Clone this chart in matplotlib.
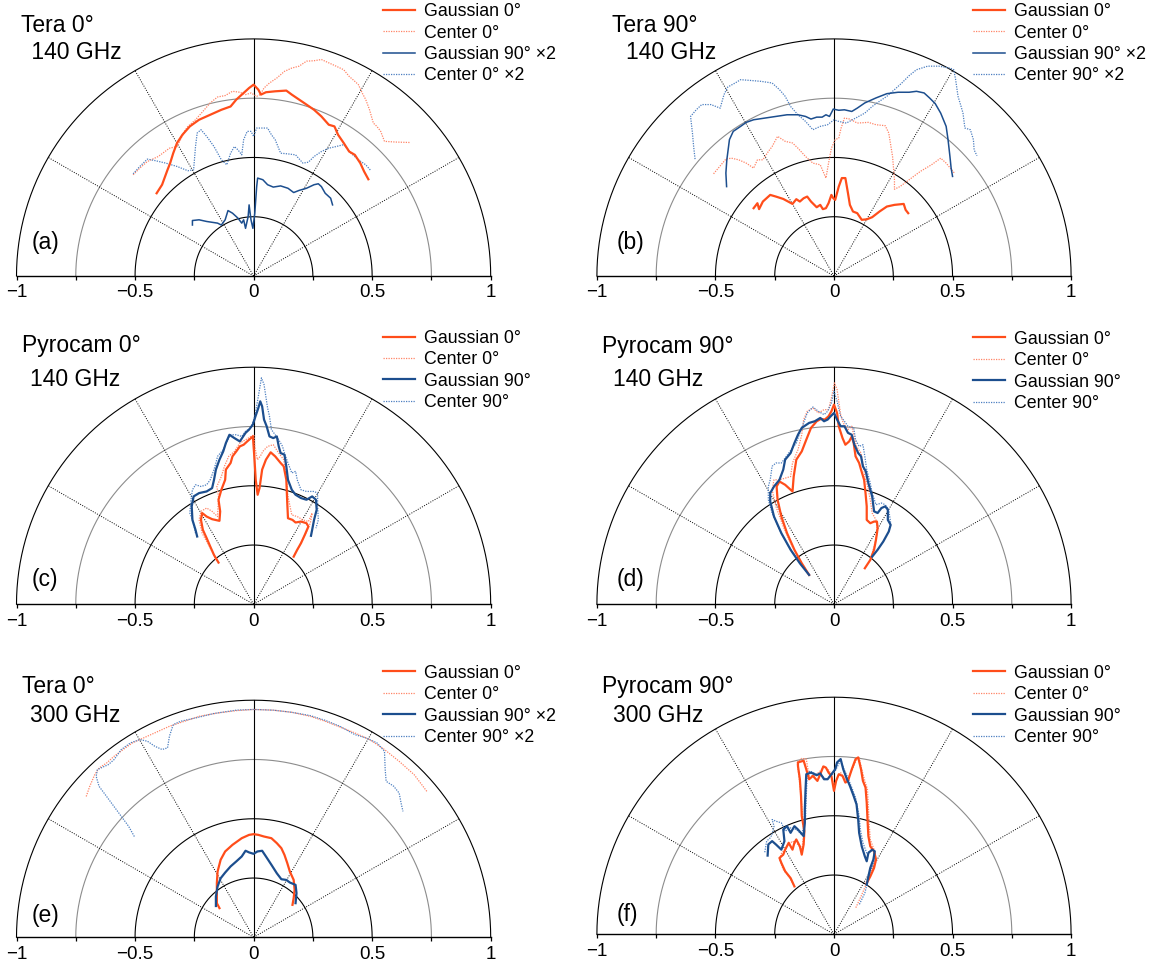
import numpy as np
import matplotlib
matplotlib.use('Agg')
import matplotlib.pyplot as plt

plt.rcParams['font.family'] = ['Liberation Sans', 'DejaVu Sans']

# ── colours ────────────────────────────────────────────────────────────
C_G0 = '#FF4D1A'    # Gaussian 0°
C_C0 = '#FF8466'    # Center 0°
C_G90 = '#1C4E8E'   # Gaussian 90°
C_C90 = '#4C7FC0'   # Center 90°

# ── data: horizontal / vertical projection of the polar patterns ──────
# (a) Tera 0°, 140 GHz
a_g0_x = [-0.409, -0.386, -0.363, -0.352, -0.339, -0.323, -0.300, -0.269, -0.230, -0.183, -0.136, -0.097,
          -0.073, -0.042, -0.019, 0.0, 0.020, 0.031, 0.052, 0.091, 0.138, 0.161, 0.192, 0.223, 0.255, 0.286,
          0.317, 0.341, 0.356, 0.380, 0.403, 0.427, 0.450, 0.466, 0.484]
a_g0_y = [0.349, 0.385, 0.448, 0.476, 0.518, 0.561, 0.596, 0.631, 0.659, 0.680, 0.701, 0.715,
          0.744, 0.772, 0.793, 0.807, 0.786, 0.765, 0.775, 0.779, 0.782, 0.765, 0.744, 0.723, 0.701, 0.673,
          0.638, 0.631, 0.596, 0.561, 0.525, 0.511, 0.476, 0.441, 0.408]
a_c0_x = [-0.508, -0.480, -0.448, -0.402, -0.355, -0.323, -0.308, -0.292, -0.277, -0.245, -0.214, -0.183,
          -0.152, -0.120, -0.089, -0.058, -0.034, -0.011, 0.013, 0.028, 0.044, 0.067, 0.098, 0.130, 0.161,
          0.192, 0.223, 0.255, 0.286, 0.317, 0.348, 0.380, 0.403, 0.427, 0.442, 0.458, 0.473, 0.489, 0.505,
          0.520, 0.536, 0.552, 0.598, 0.661]
a_c0_y = [0.427, 0.455, 0.483, 0.504, 0.539, 0.546, 0.575, 0.610, 0.631, 0.659, 0.694, 0.730,
          0.755, 0.761, 0.779, 0.775, 0.765, 0.772, 0.758, 0.765, 0.793, 0.814, 0.835, 0.863, 0.877,
          0.885, 0.906, 0.908, 0.913, 0.899, 0.885, 0.870, 0.842, 0.821, 0.807, 0.772, 0.744, 0.701, 0.645,
          0.631, 0.610, 0.568, 0.565, 0.563]
a_g90_x = [-0.258, -0.258, -0.230, -0.198, -0.152, -0.136, -0.120, -0.108, -0.089, -0.066, -0.050, -0.042,
           -0.034, -0.023, -0.019, -0.011, -0.003, 0.005, 0.013, 0.017, 0.039, 0.059, 0.083, 0.114, 0.145,
           0.169, 0.192, 0.223, 0.255, 0.273, 0.286, 0.302, 0.325, 0.333]
a_g90_y = [0.215, 0.234, 0.237, 0.230, 0.223, 0.215, 0.237, 0.276, 0.265, 0.244, 0.223, 0.237,
           0.201, 0.251, 0.300, 0.237, 0.201, 0.265, 0.377, 0.413, 0.406, 0.385, 0.375, 0.380, 0.370,
           0.352, 0.361, 0.370, 0.385, 0.389, 0.377, 0.349, 0.328, 0.300]
a_c90_x = [-0.508, -0.480, -0.448, -0.417, -0.370, -0.323, -0.277, -0.253, -0.245, -0.238, -0.222, -0.198,
           -0.167, -0.136, -0.113, -0.097, -0.081, -0.066, -0.050, -0.042, -0.027, -0.011, 0.0, 0.013, 0.036,
           0.059, 0.075, 0.091, 0.114, 0.145, 0.177, 0.208, 0.231, 0.255, 0.286, 0.317, 0.348, 0.380, 0.411,
           0.442, 0.473, 0.494]
a_c90_y = [0.431, 0.462, 0.493, 0.487, 0.476, 0.462, 0.444, 0.448, 0.546, 0.603, 0.617, 0.589,
           0.546, 0.490, 0.469, 0.518, 0.546, 0.532, 0.511, 0.575, 0.610, 0.610, 0.589, 0.624, 0.624,
           0.624, 0.596, 0.575, 0.518, 0.515, 0.511, 0.476, 0.480, 0.504, 0.525, 0.539, 0.546, 0.554, 0.518,
           0.490, 0.469, 0.445]

# (b) Tera 90°, 140 GHz
b_g0_x = [-0.339, -0.323, -0.316, -0.300, -0.269, -0.245, -0.214, -0.175, -0.159, -0.144, -0.128, -0.113,
          -0.097, -0.073, -0.058, -0.047, -0.034, -0.023, -0.011, -0.003, 0.005, 0.020, 0.033, 0.048, 0.059,
          0.067, 0.080, 0.098, 0.117, 0.138, 0.161, 0.192, 0.223, 0.255, 0.294, 0.302, 0.313]
b_g0_y = [0.286, 0.307, 0.282, 0.314, 0.342, 0.335, 0.325, 0.304, 0.324, 0.314, 0.328, 0.335,
          0.314, 0.290, 0.300, 0.282, 0.286, 0.307, 0.342, 0.328, 0.321, 0.377, 0.413, 0.413, 0.349,
          0.300, 0.272, 0.265, 0.237, 0.239, 0.248, 0.272, 0.293, 0.300, 0.304, 0.279, 0.265]
b_c0_x = [-0.508, -0.488, -0.456, -0.433, -0.402, -0.370, -0.339, -0.323, -0.300, -0.277, -0.261, -0.238,
          -0.206, -0.175, -0.152, -0.120, -0.089, -0.058, -0.034, -0.023, -0.011, 0.005, 0.020, 0.030, 0.044,
          0.067, 0.098, 0.145, 0.177, 0.216, 0.231, 0.247, 0.255, 0.255, 0.278, 0.317, 0.364, 0.411, 0.450,
          0.473, 0.508]
b_c0_y = [0.431, 0.455, 0.493, 0.497, 0.490, 0.476, 0.455, 0.490, 0.490, 0.525, 0.546, 0.589,
          0.568, 0.561, 0.539, 0.504, 0.476, 0.469, 0.413, 0.476, 0.539, 0.575, 0.582, 0.624, 0.666,
          0.662, 0.645, 0.648, 0.638, 0.634, 0.603, 0.504, 0.406, 0.366, 0.377, 0.406, 0.441, 0.469, 0.497,
          0.476, 0.434]
b_g90_x = [-0.453, -0.456, -0.452, -0.441, -0.425, -0.394, -0.370, -0.339, -0.292, -0.245, -0.198, -0.152,
           -0.120, -0.097, -0.073, -0.050, -0.034, -0.019, -0.003, 0.020, 0.044, 0.075, 0.098, 0.130, 0.177,
           0.223, 0.270, 0.317, 0.348, 0.380, 0.403, 0.427, 0.450, 0.473, 0.481, 0.489, 0.494, 0.500]
b_g90_y = [0.377, 0.434, 0.490, 0.575, 0.610, 0.631, 0.648, 0.659, 0.666, 0.673, 0.680, 0.680,
           0.673, 0.662, 0.670, 0.670, 0.680, 0.673, 0.704, 0.699, 0.701, 0.694, 0.708, 0.730, 0.751,
           0.769, 0.775, 0.775, 0.779, 0.772, 0.751, 0.727, 0.687, 0.631, 0.575, 0.504, 0.455, 0.420]
b_c90_x = [-0.586, -0.592, -0.597, -0.605, -0.581, -0.558, -0.519, -0.480, -0.464, -0.448, -0.417, -0.394,
           -0.355, -0.308, -0.261, -0.230, -0.206, -0.183, -0.152, -0.120, -0.089, -0.058, -0.027, 0.0, 0.020,
           0.052, 0.091, 0.130, 0.161, 0.192, 0.223, 0.255, 0.286, 0.317, 0.348, 0.395, 0.442, 0.489, 0.505,
           0.513, 0.523, 0.536, 0.544, 0.552, 0.575, 0.588, 0.591, 0.603]
b_c90_y = [0.493, 0.546, 0.603, 0.673, 0.701, 0.723, 0.723, 0.708, 0.765, 0.797, 0.814, 0.828,
           0.825, 0.821, 0.814, 0.786, 0.758, 0.715, 0.680, 0.652, 0.617, 0.631, 0.638, 0.659, 0.652,
           0.645, 0.666, 0.687, 0.715, 0.737, 0.758, 0.786, 0.814, 0.845, 0.870, 0.885, 0.885, 0.877, 0.870,
           0.828, 0.758, 0.715, 0.687, 0.624, 0.617, 0.575, 0.532, 0.507]

# (c) Pyrocam 0°, 140 GHz
c_g0_x = [-0.148, -0.167, -0.183, -0.198, -0.214, -0.222, -0.217, -0.198, -0.175, -0.144, -0.141, -0.148,
          -0.136, -0.120, -0.117, -0.097, -0.089, -0.073, -0.058, -0.042, -0.027, -0.011, -0.003, 0.002, 0.009,
          0.017, 0.025, 0.036, 0.052, 0.072, 0.091, 0.114, 0.127, 0.138, 0.142, 0.145, 0.164, 0.177, 0.200,
          0.223, 0.231, 0.216, 0.200, 0.184, 0.169]
c_g0_y = [0.176, 0.208, 0.244, 0.279, 0.314, 0.356, 0.385, 0.370, 0.359, 0.352, 0.392, 0.441,
          0.483, 0.525, 0.568, 0.596, 0.624, 0.645, 0.666, 0.673, 0.687, 0.701, 0.708, 0.638, 0.525,
          0.462, 0.490, 0.568, 0.610, 0.641, 0.624, 0.596, 0.582, 0.525, 0.427, 0.363, 0.356, 0.345, 0.349,
          0.342, 0.328, 0.293, 0.258, 0.230, 0.201]
c_c0_x = [-0.159, -0.175, -0.198, -0.217, -0.230, -0.222, -0.198, -0.175, -0.152, -0.148, -0.155, -0.136,
          -0.123, -0.105, -0.081, -0.058, -0.034, -0.011, 0.002, 0.005, 0.016, 0.028, 0.039, 0.059, 0.083,
          0.106, 0.127, 0.138, 0.145, 0.161, 0.184, 0.208, 0.231, 0.247, 0.239, 0.220, 0.192, 0.172]
c_c0_y = [0.187, 0.223, 0.265, 0.300, 0.356, 0.392, 0.406, 0.392, 0.370, 0.455, 0.497, 0.539,
          0.582, 0.624, 0.645, 0.680, 0.694, 0.708, 0.715, 0.666, 0.610, 0.624, 0.645, 0.666, 0.673,
          0.638, 0.610, 0.539, 0.455, 0.377, 0.370, 0.356, 0.349, 0.385, 0.342, 0.300, 0.244, 0.208]
c_g90_x = [-0.238, -0.245, -0.258, -0.261, -0.253, -0.230, -0.198, -0.175, -0.167, -0.159, -0.144, -0.128,
           -0.117, -0.102, -0.081, -0.058, -0.034, -0.019, -0.003, 0.008, 0.020, 0.028, 0.036, 0.044, 0.055,
           0.067, 0.083, 0.098, 0.106, 0.114, 0.130, 0.138, 0.145, 0.161, 0.177, 0.200, 0.223, 0.247, 0.263,
           0.266, 0.255, 0.247, 0.242]
c_g90_y = [0.286, 0.314, 0.356, 0.413, 0.455, 0.469, 0.476, 0.490, 0.525, 0.568, 0.610, 0.645,
           0.680, 0.715, 0.701, 0.687, 0.723, 0.737, 0.758, 0.793, 0.828, 0.856, 0.835, 0.779, 0.751,
           0.708, 0.701, 0.708, 0.666, 0.638, 0.631, 0.582, 0.525, 0.483, 0.462, 0.448, 0.441, 0.455, 0.441,
           0.399, 0.356, 0.314, 0.289]
c_c90_x = [-0.245, -0.253, -0.269, -0.264, -0.258, -0.245, -0.222, -0.198, -0.183, -0.167, -0.159, -0.152,
           -0.128, -0.113, -0.097, -0.073, -0.050, -0.034, -0.011, 0.005, 0.020, 0.033, 0.044, 0.059, 0.067,
           0.075, 0.091, 0.106, 0.122, 0.130, 0.145, 0.161, 0.177, 0.184, 0.200, 0.223, 0.255, 0.270, 0.270,
           0.273, 0.263]
c_c90_y = [0.300, 0.342, 0.385, 0.441, 0.483, 0.504, 0.497, 0.504, 0.525, 0.568, 0.596, 0.624,
           0.652, 0.687, 0.715, 0.715, 0.708, 0.730, 0.744, 0.793, 0.877, 0.955, 0.927, 0.828, 0.793,
           0.737, 0.715, 0.694, 0.666, 0.638, 0.596, 0.554, 0.561, 0.525, 0.483, 0.476, 0.476, 0.469, 0.413,
           0.356, 0.321]

# (d) Pyrocam 90°, 140 GHz
d_g0_x = [-0.105, -0.136, -0.167, -0.198, -0.222, -0.238, -0.242, -0.230, -0.206, -0.175, -0.170, -0.159,
          -0.136, -0.117, -0.097, -0.073, -0.055, -0.039, -0.023, -0.011, 0.0, 0.013, 0.020, 0.036, 0.048,
          0.064, 0.075, 0.083, 0.091, 0.106, 0.114, 0.127, 0.133, 0.138, 0.138, 0.153, 0.169, 0.181, 0.184,
          0.177, 0.169, 0.153, 0.130]
d_g0_y = [0.124, 0.173, 0.230, 0.300, 0.370, 0.441, 0.497, 0.518, 0.504, 0.476, 0.539, 0.610,
          0.645, 0.694, 0.744, 0.772, 0.782, 0.779, 0.793, 0.814, 0.842, 0.807, 0.751, 0.701, 0.673,
          0.687, 0.708, 0.680, 0.624, 0.596, 0.568, 0.525, 0.469, 0.413, 0.356, 0.342, 0.349, 0.349, 0.321,
          0.272, 0.230, 0.187, 0.152]
d_c0_x = [-0.105, -0.144, -0.183, -0.214, -0.245, -0.261, -0.253, -0.230, -0.206, -0.183, -0.175, -0.152,
          -0.136, -0.128, -0.113, -0.089, -0.066, -0.042, -0.023, -0.011, 0.002, 0.013, 0.028, 0.039, 0.059,
          0.075, 0.083, 0.095, 0.114, 0.122, 0.130, 0.142, 0.153, 0.161, 0.177, 0.184, 0.169, 0.153]
d_c0_y = [0.124, 0.187, 0.258, 0.328, 0.413, 0.483, 0.525, 0.525, 0.532, 0.539, 0.596, 0.652,
          0.715, 0.779, 0.814, 0.828, 0.807, 0.821, 0.821, 0.870, 0.934, 0.906, 0.800, 0.765, 0.737,
          0.751, 0.715, 0.666, 0.638, 0.596, 0.539, 0.497, 0.441, 0.385, 0.356, 0.307, 0.244, 0.187]
d_g90_x = [-0.105, -0.144, -0.183, -0.222, -0.253, -0.269, -0.269, -0.253, -0.230, -0.214, -0.206, -0.183,
           -0.167, -0.152, -0.136, -0.105, -0.081, -0.058, -0.042, -0.027, -0.014, 0.0, 0.013, 0.028, 0.044,
           0.059, 0.075, 0.086, 0.102, 0.114, 0.122, 0.134, 0.145, 0.161, 0.169, 0.184, 0.200, 0.216, 0.227,
           0.227, 0.239, 0.231, 0.208, 0.184, 0.161]
d_g90_y = [0.124, 0.173, 0.230, 0.300, 0.370, 0.434, 0.469, 0.497, 0.525, 0.568, 0.610, 0.638,
           0.680, 0.715, 0.744, 0.765, 0.772, 0.786, 0.772, 0.779, 0.793, 0.807, 0.779, 0.751, 0.751,
           0.723, 0.715, 0.673, 0.638, 0.624, 0.582, 0.561, 0.511, 0.455, 0.392, 0.385, 0.406, 0.413, 0.399,
           0.356, 0.335, 0.307, 0.265, 0.230, 0.201]
d_c90_x = [-0.105, -0.152, -0.191, -0.230, -0.261, -0.277, -0.277, -0.269, -0.261, -0.245, -0.222, -0.206,
           -0.191, -0.159, -0.144, -0.128, -0.113, -0.089, -0.066, -0.042, -0.027, -0.011, 0.0, 0.013, 0.028,
           0.044, 0.059, 0.083, 0.091, 0.106, 0.122, 0.130, 0.138, 0.153, 0.161, 0.177, 0.200, 0.216, 0.231,
           0.239, 0.231]
d_c90_y = [0.124, 0.187, 0.244, 0.314, 0.385, 0.441, 0.497, 0.525, 0.582, 0.596, 0.596, 0.617,
           0.638, 0.680, 0.723, 0.765, 0.807, 0.832, 0.814, 0.800, 0.814, 0.849, 0.899, 0.856, 0.793,
           0.772, 0.751, 0.744, 0.694, 0.666, 0.673, 0.624, 0.568, 0.511, 0.469, 0.420, 0.427, 0.420, 0.399,
           0.342, 0.307]

# (e) Tera 0°, 300 GHz
e_g0_x = [-0.144, -0.155, -0.155, -0.152, -0.139, -0.120, -0.089, -0.050, -0.019, 0.0, 0.020, 0.044,
          0.075, 0.098, 0.117, 0.130, 0.142, 0.153, 0.169, 0.173, 0.169, 0.164]
e_g0_y = [0.123, 0.144, 0.228, 0.277, 0.327, 0.362, 0.390, 0.418, 0.432, 0.435, 0.432, 0.425,
          0.418, 0.397, 0.376, 0.348, 0.313, 0.277, 0.242, 0.200, 0.165, 0.137]
e_c0_x = [-0.706, -0.691, -0.670, -0.652, -0.620, -0.589, -0.550, -0.511, -0.464, -0.417, -0.355, -0.292,
          -0.230, -0.152, -0.073, 0.0, 0.083, 0.161, 0.239, 0.302, 0.364, 0.427, 0.489, 0.552, 0.614,
          0.677, 0.731]
e_c0_y = [0.594, 0.637, 0.686, 0.714, 0.735, 0.763, 0.792, 0.820, 0.841, 0.862, 0.890, 0.911,
          0.932, 0.946, 0.956, 0.961, 0.958, 0.949, 0.932, 0.911, 0.887, 0.862, 0.834, 0.792, 0.742,
          0.686, 0.615]
e_g90_x = [-0.159, -0.159, -0.152, -0.139, -0.120, -0.097, -0.073, -0.050, -0.034, -0.019, 0.0, 0.016,
           0.036, 0.052, 0.075, 0.098, 0.117, 0.138, 0.153, 0.177, 0.181, 0.177]
e_g90_y = [0.132, 0.172, 0.214, 0.249, 0.273, 0.299, 0.320, 0.341, 0.365, 0.358, 0.352, 0.362,
           0.365, 0.341, 0.306, 0.270, 0.245, 0.242, 0.231, 0.221, 0.186, 0.144]
e_c90_x = [-0.503, -0.527, -0.558, -0.589, -0.620, -0.652, -0.664, -0.659, -0.636, -0.613, -0.589, -0.558,
           -0.519, -0.480, -0.448, -0.417, -0.386, -0.363, -0.355, -0.339, -0.308, -0.245, -0.167, -0.073, 0.0,
           0.083, 0.161, 0.239, 0.302, 0.364, 0.427, 0.473, 0.520, 0.552, 0.555, 0.559, 0.591, 0.614, 0.622,
           0.630]
e_c90_y = [0.425, 0.468, 0.510, 0.552, 0.594, 0.637, 0.679, 0.707, 0.718, 0.728, 0.749, 0.792,
           0.820, 0.834, 0.827, 0.806, 0.792, 0.799, 0.848, 0.897, 0.911, 0.925, 0.944, 0.958, 0.961,
           0.958, 0.949, 0.935, 0.915, 0.890, 0.855, 0.841, 0.820, 0.785, 0.707, 0.658, 0.637, 0.608, 0.566,
           0.531]

# (f) Pyrocam 90°, 300 GHz
f_g0_x = [-0.167, -0.183, -0.206, -0.222, -0.230, -0.214, -0.206, -0.191, -0.183, -0.175, -0.167, -0.159,
          -0.144, -0.136, -0.128, -0.125, -0.136, -0.139, -0.144, -0.152, -0.152, -0.128, -0.117, -0.105,
          -0.089, -0.070, -0.058, -0.045, -0.034, -0.023, -0.011, 0.0, 0.009, 0.020, 0.036, 0.048, 0.059,
          0.075, 0.091, 0.102, 0.114, 0.122, 0.133, 0.138, 0.142, 0.145, 0.153, 0.169, 0.177, 0.169, 0.153,
          0.138]
f_g0_y = [0.202, 0.237, 0.266, 0.301, 0.322, 0.336, 0.357, 0.386, 0.371, 0.357, 0.386, 0.400,
          0.371, 0.336, 0.379, 0.435, 0.499, 0.583, 0.654, 0.710, 0.725, 0.732, 0.696, 0.654,
          0.668, 0.647, 0.675, 0.708, 0.703, 0.682, 0.668, 0.605, 0.647, 0.675, 0.668, 0.640, 0.647,
          0.696, 0.739, 0.746, 0.696, 0.647, 0.619, 0.555, 0.470, 0.414, 0.371, 0.350, 0.315, 0.280, 0.244,
          0.216]
f_c0_x = [-0.170, -0.191, -0.214, -0.230, -0.222, -0.198, -0.175, -0.152, -0.136, -0.128, -0.131, -0.139,
          -0.148, -0.155, -0.136, -0.117, -0.105, -0.081, -0.058, -0.042, -0.019, 0.0, 0.013, 0.028, 0.052,
          0.075, 0.095, 0.106, 0.117, 0.130, 0.141, 0.145, 0.148, 0.153, 0.169, 0.177, 0.161, 0.138, 0.114,
          0.091]
f_c0_y = [0.209, 0.244, 0.273, 0.315, 0.340, 0.371, 0.393, 0.379, 0.357, 0.414, 0.484, 0.583,
          0.668, 0.725, 0.742, 0.739, 0.668, 0.668, 0.689, 0.710, 0.689, 0.626, 0.661, 0.682, 0.647,
          0.689, 0.739, 0.746, 0.696, 0.647, 0.612, 0.541, 0.470, 0.400, 0.357, 0.322, 0.273, 0.216, 0.160,
          0.110]
f_g90_x = [-0.280, -0.277, -0.261, -0.245, -0.222, -0.209, -0.214, -0.198, -0.183, -0.167, -0.152, -0.128,
           -0.123, -0.123, -0.120, -0.117, -0.097, -0.073, -0.058, -0.042, -0.027, -0.011, 0.005, 0.013,
           0.028, 0.039, 0.052, 0.067, 0.083, 0.095, 0.102, 0.106, 0.117, 0.130, 0.138, 0.145, 0.161, 0.172,
           0.166, 0.153, 0.145, 0.138]
f_g90_y = [0.332, 0.379, 0.393, 0.379, 0.357, 0.393, 0.442, 0.456, 0.428, 0.456, 0.442, 0.414,
           0.470, 0.527, 0.612, 0.675, 0.682, 0.671, 0.679, 0.654, 0.654, 0.675, 0.696, 0.725,
           0.739, 0.696, 0.661, 0.626, 0.583, 0.548, 0.484, 0.428, 0.371, 0.329, 0.308, 0.343, 0.357, 0.350,
           0.315, 0.280, 0.244, 0.209]
f_c90_x = [-0.292, -0.284, -0.269, -0.261, -0.253, -0.261, -0.245, -0.222, -0.206, -0.183, -0.159, -0.136,
           -0.120, -0.117, -0.113, -0.102, -0.073, -0.050, -0.034, -0.011, 0.005, 0.020, 0.028, 0.039, 0.055,
           0.075, 0.091, 0.106, 0.111, 0.122, 0.138, 0.153, 0.169, 0.169, 0.153, 0.130, 0.106]
f_c90_y = [0.346, 0.393, 0.407, 0.421, 0.456, 0.484, 0.477, 0.470, 0.435, 0.449, 0.442, 0.421,
           0.484, 0.583, 0.668, 0.689, 0.675, 0.668, 0.654, 0.668, 0.689, 0.718, 0.739, 0.703, 0.668,
           0.619, 0.576, 0.499, 0.442, 0.386, 0.343, 0.350, 0.357, 0.308, 0.266, 0.174, 0.124]

# ── panel layout (figure fractions, 1158 x 966 px) ────────────────────
W, H = 1158, 966
UNIT = 237.1           # px per data unit
X0_LEFT, X0_RIGHT = 253.6, 834.0
ROW_Y0 = [276.0, 604.3, 937.3]
YTOP = 1.15

# tpos/spos: baselines of the two title lines, lpos: panel letter, leg: first legend row
panels = [
    dict(x0=X0_LEFT, y0=ROW_Y0[0], letter='(a)', title='Tera 0°', sub=' 140 GHz',
         tpos=(-0.980, 1.030), spos=(-0.965, 0.915), lpos=(-0.936, 0.141), leg=(0.547, 1.131),
         curves=[(a_g0_x, a_g0_y), (a_c0_x, a_c0_y), (a_g90_x, a_g90_y), (a_c90_x, a_c90_y)],
         labels=['Gaussian 0°', 'Center 0°', 'Gaussian 90° ×2', 'Center 0° ×2'], g90_lw=1.1),
    dict(x0=X0_RIGHT, y0=ROW_Y0[0], letter='(b)', title='Tera 90°', sub='140 GHz',
         tpos=(-0.936, 1.030), spos=(-0.878, 0.915), lpos=(-0.917, 0.141), leg=(0.588, 1.131),
         curves=[(b_g0_x, b_g0_y), (b_c0_x, b_c0_y), (b_g90_x, b_g90_y), (b_c90_x, b_c90_y)],
         labels=['Gaussian 0°', 'Center 0°', 'Gaussian 90° ×2', 'Center 90° ×2'], g90_lw=1.1),
    dict(x0=X0_LEFT, y0=ROW_Y0[1], letter='(c)', title='Pyrocam 0°', sub='140 GHz',
         tpos=(-0.977, 1.066), spos=(-0.941, 0.921), lpos=(-0.936, 0.106), leg=(0.547, 1.138),
         curves=[(c_g0_x, c_g0_y), (c_c0_x, c_c0_y), (c_g90_x, c_g90_y), (c_c90_x, c_c90_y)],
         labels=['Gaussian 0°', 'Center 0°', 'Gaussian 90°', 'Center 90°'], g90_lw=1.6),
    dict(x0=X0_RIGHT, y0=ROW_Y0[1], letter='(d)', title='Pyrocam 90°', sub='140 GHz',
         tpos=(-0.980, 1.059), spos=(-0.933, 0.921), lpos=(-0.917, 0.106), leg=(0.588, 1.134),
         curves=[(d_g0_x, d_g0_y), (d_c0_x, d_c0_y), (d_g90_x, d_g90_y), (d_c90_x, d_c90_y)],
         labels=['Gaussian 0°', 'Center 0°', 'Gaussian 90°', 'Center 90°'], g90_lw=1.6),
    dict(x0=X0_LEFT, y0=ROW_Y0[2], letter='(e)', title='Tera 0°', sub='300 GHz',
         tpos=(-0.977, 1.029), spos=(-0.945, 0.909), lpos=(-0.936, 0.094), leg=(0.547, 1.130),
         curves=[(e_g0_x, e_g0_y), (e_c0_x, e_c0_y), (e_g90_x, e_g90_y), (e_c90_x, e_c90_y)],
         labels=['Gaussian 0°', 'Center 0°', 'Gaussian 90° ×2', 'Center 90° ×2'], g90_lw=1.6),
    dict(x0=X0_RIGHT, y0=ROW_Y0[2] - 3.0, letter='(f)', title='Pyrocam 90°', sub='300 GHz',
         tpos=(-0.980, 1.016), spos=(-0.933, 0.897), lpos=(-0.917, 0.082), leg=(0.588, 1.117),
         curves=[(f_g0_x, f_g0_y), (f_c0_x, f_c0_y), (f_g90_x, f_g90_y), (f_c90_x, f_c90_y)],
         labels=['Gaussian 0°', 'Center 0°', 'Gaussian 90°', 'Center 90°'], g90_lw=1.6),
]

DOT = (0, (1, 1))
TITLE_FS = 16.5
LEGEND_FS = 12.8
TICK_FS = 13.5


def draw_grid(ax):
    t = np.linspace(0, np.pi, 361)
    for r, col in [(0.25, 'black'), (0.5, 'black'), (0.75, '#8c8c8c'), (1.0, 'black')]:
        ax.plot(r * np.cos(t), r * np.sin(t), color=col, lw=0.8, zorder=1, clip_on=False)
    for deg in [30, 60, 120, 150]:
        a = np.radians(deg)
        ax.plot([0, np.cos(a)], [0, np.sin(a)], color='black', lw=0.7, ls=(0, (1, 1.5)), zorder=1)
    ax.plot([0, 0], [0, 1], color='black', lw=0.8, zorder=1)


fig = plt.figure(figsize=(W / 100, H / 100), dpi=100)
fig.patch.set_facecolor('white')

for p in panels:
    ax = fig.add_axes([(p['x0'] - UNIT) / W, (H - p['y0']) / H,
                       2 * UNIT / W, YTOP * UNIT / H])
    ax.set_xlim(-1, 1)
    ax.set_ylim(0, YTOP)
    for s in ['top', 'left', 'right']:
        ax.spines[s].set_visible(False)
    ax.spines['bottom'].set_linewidth(1.0)
    ax.set_yticks([])
    ax.set_xticks(np.arange(-1, 1.01, 0.25))
    ax.set_xticklabels(['−1', '', '−0.5', '', '0', '', '0.5', '', '1'], fontsize=TICK_FS)
    ax.tick_params(axis='x', direction='out', length=3, width=0.9, pad=3)
    ax.patch.set_alpha(0)

    draw_grid(ax)

    (gx, gy), (cx, cy), (g9x, g9y), (c9x, c9y) = p['curves']
    l1, = ax.plot(gx, gy, color=C_G0, lw=1.6, zorder=4)
    l2, = ax.plot(cx, cy, color=C_C0, lw=0.9, ls=DOT, zorder=3)
    l3, = ax.plot(g9x, g9y, color=C_G90, lw=p['g90_lw'], zorder=4)
    l4, = ax.plot(c9x, c9y, color=C_C90, lw=0.9, ls=DOT, zorder=3)

    lx, ly = p['leg']
    ax.legend([l1, l2, l3, l4], p['labels'], loc='upper left',
              bbox_to_anchor=(lx, ly + 0.02), bbox_transform=ax.transData,
              frameon=False, fontsize=LEGEND_FS, handlelength=1.8, handletextpad=0.5,
              labelspacing=0.25, borderpad=0, borderaxespad=0)

    ax.text(*p['tpos'], p['title'], fontsize=TITLE_FS, ha='left', va='baseline')
    ax.text(*p['spos'], p['sub'], fontsize=TITLE_FS, ha='left', va='baseline')
    ax.text(*p['lpos'], p['letter'], fontsize=TITLE_FS, ha='left', va='center')

plt.savefig('out.png', dpi=100, facecolor='white')
